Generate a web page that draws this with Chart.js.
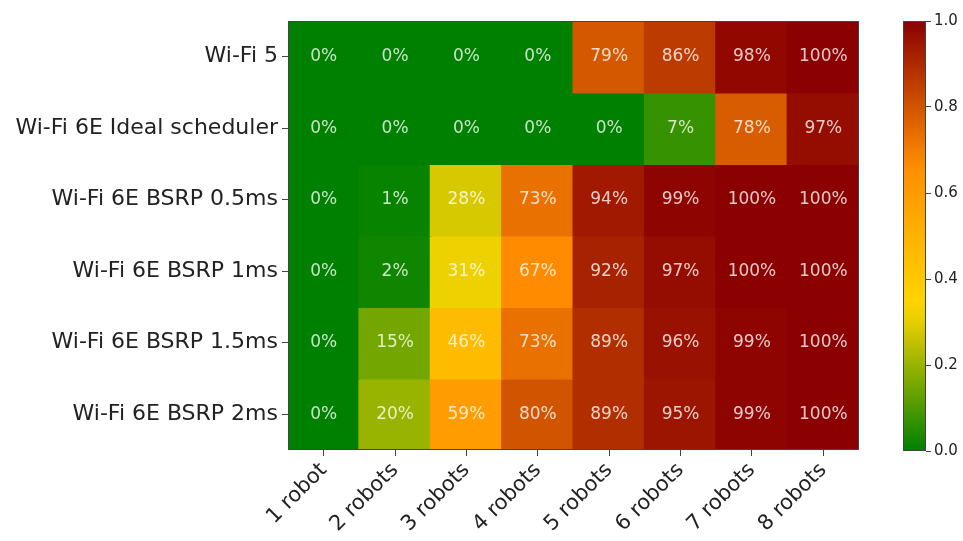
<!DOCTYPE html>
<html>
<head>
<meta charset="utf-8">
<script src="https://cdn.jsdelivr.net/npm/chart.js@4"></script>
<style>
  body { margin: 0; background: #fff; }
  #wrap { position: relative; width: 963px; height: 541px; }
  #wrap canvas { position: absolute; left: 0; top: 0; }
</style>
</head>
<body>
<div id="wrap">
  <canvas id="heat" width="963" height="541"></canvas>
  <canvas id="cbar" width="963" height="541"></canvas>
</div>
<script>
// === Data ===
var robotLabels = ['1 robot', '2 robots', '3 robots', '4 robots', '5 robots', '6 robots', '7 robots', '8 robots'];
var rowLabels = ['Wi-Fi 5', 'Wi-Fi 6E Ideal scheduler', 'Wi-Fi 6E BSRP 0.5ms', 'Wi-Fi 6E BSRP 1ms', 'Wi-Fi 6E BSRP 1.5ms', 'Wi-Fi 6E BSRP 2ms'];
var wifi5 = [0, 0, 0, 0, 0.79, 0.86, 0.98, 1.00];
var ideal = [0, 0, 0, 0, 0, 0.07, 0.78, 0.97];
var bsrp05 = [0, 0.01, 0.28, 0.73, 0.94, 0.99, 1.00, 1.00];
var bsrp1 = [0, 0.02, 0.31, 0.67, 0.92, 0.97, 1.00, 1.00];
var bsrp15 = [0, 0.15, 0.46, 0.73, 0.89, 0.96, 0.99, 1.00];
var bsrp2 = [0, 0.20, 0.59, 0.80, 0.89, 0.95, 0.99, 1.00];
var rows = [wifi5, ideal, bsrp05, bsrp1, bsrp15, bsrp2];
var cbarTicks = [0, 0.2, 0.4, 0.6, 0.8, 1.0];

// green -> gold -> darkorange -> darkred
var stops = [
    [0, [0, 128, 0]],
    [1 / 3, [255, 215, 0]],
    [2 / 3, [255, 140, 0]],
    [1, [139, 0, 0]]
];
function cmap(v) {
    v = Math.max(0, Math.min(1, v));
    for (var i = 1; i < stops.length; i++) {
        if (v <= stops[i][0]) {
            var a = stops[i - 1], b = stops[i];
            var t = (v - a[0]) / (b[0] - a[0]);
            var c = a[1].map(function(x, k) { return Math.round(x + (b[1][k] - x) * t); });
            return 'rgb(' + c.join(',') + ')';
        }
    }
    return 'rgb(139,0,0)';
}

var FONT = "'DejaVu Sans', sans-serif";
var AXIS = '#444';

// frame round the chart area
var framePlugin = {
    id: 'frame',
    afterDraw: function(chart) {
        var a = chart.chartArea, ctx = chart.ctx;
        ctx.save();
        ctx.strokeStyle = AXIS;
        ctx.lineWidth = 1;
        ctx.strokeRect(Math.round(a.left) + 0.5, Math.round(a.top) + 0.5,
            Math.round(a.right - a.left) - 1, Math.round(a.bottom - a.top) - 1);
        ctx.restore();
    }
};

// percentage text in each cell
var cellText = {
    id: 'cellText',
    afterDatasetsDraw: function(chart) {
        var ctx = chart.ctx, xs = chart.scales.x, ys = chart.scales.y;
        ctx.save();
        ctx.font = '17px ' + FONT;
        ctx.fillStyle = 'rgba(255,255,255,0.78)';
        ctx.textAlign = 'center';
        ctx.textBaseline = 'middle';
        rows.forEach(function(vals, r) {
            vals.forEach(function(v, c) {
                ctx.fillText(Math.round(v * 100) + '%', xs.getPixelForValue(c), ys.getPixelForValue(r + 0.5));
            });
        });
        ctx.restore();
    }
};

new Chart(document.getElementById('heat'), {
    type: 'bar',
    data: {
        labels: robotLabels,
        datasets: rows.map(function(vals, r) {
            return {
                data: vals.map(function() { return [r, r + 1]; }),
                backgroundColor: vals.map(cmap),
                borderWidth: 0,
                inflateAmount: 1,
                barPercentage: 1,
                categoryPercentage: 1
            };
        })
    },
    options: {
        responsive: false,
        animation: false,
        devicePixelRatio: 1,
        layout: { padding: { top: 21, right: 104, bottom: 0, left: 0 } },
        plugins: { legend: { display: false }, tooltip: { enabled: false } },
        scales: {
            x: {
                stacked: true,
                afterFit: function(s) { s.height = 91; },
                grid: { display: true, drawOnChartArea: false, offset: false, tickLength: 6, color: AXIS },
                border: { display: false },
                ticks: {
                    color: '#222', font: { family: FONT, size: 21 },
                    minRotation: 45, maxRotation: 45, padding: 2
                }
            },
            y: {
                min: 0, max: 6, reverse: true,
                afterFit: function(s) { s.width = 288; },
                afterBuildTicks: function(s) {
                    s.ticks = rowLabels.map(function(_, i) { return { value: i + 0.5 }; });
                },
                grid: { display: true, drawOnChartArea: false, tickLength: 6, color: AXIS },
                border: { display: false },
                ticks: {
                    color: '#222', font: { family: FONT, size: 22 }, padding: 4,
                    callback: function(v) { return rowLabels[Math.floor(v)]; }
                }
            }
        }
    },
    plugins: [cellText, framePlugin]
});

// colorbar
new Chart(document.getElementById('cbar'), {
    type: 'bar',
    data: {
        labels: [''],
        datasets: [{
            data: [[0, 1]],
            borderWidth: 0,
            barPercentage: 1,
            categoryPercentage: 1,
            backgroundColor: function(ctx) {
                var a = ctx.chart.chartArea;
                if (!a) return cmap(0.5);
                var g = ctx.chart.ctx.createLinearGradient(0, a.bottom, 0, a.top);
                for (var i = 0; i <= 20; i++) g.addColorStop(i / 20, cmap(i / 20));
                return g;
            }
        }]
    },
    options: {
        responsive: false,
        animation: false,
        devicePixelRatio: 1,
        layout: { padding: { top: 21, right: 0, bottom: 90, left: 903 } },
        plugins: { legend: { display: false }, tooltip: { enabled: false } },
        scales: {
            x: { display: false },
            y: {
                position: 'right',
                min: 0, max: 1,
                afterFit: function(s) { s.width = 37; },
                afterBuildTicks: function(s) {
                    s.ticks = cbarTicks.map(function(v) { return { value: v }; });
                },
                grid: { display: true, drawOnChartArea: false, tickLength: 5, color: AXIS },
                border: { display: false },
                ticks: {
                    color: '#222', font: { family: FONT, size: 15 }, padding: 3,
                    callback: function(v) { return v.toFixed(1); }
                }
            }
        }
    },
    plugins: [framePlugin]
});
</script>
</body>
</html>
